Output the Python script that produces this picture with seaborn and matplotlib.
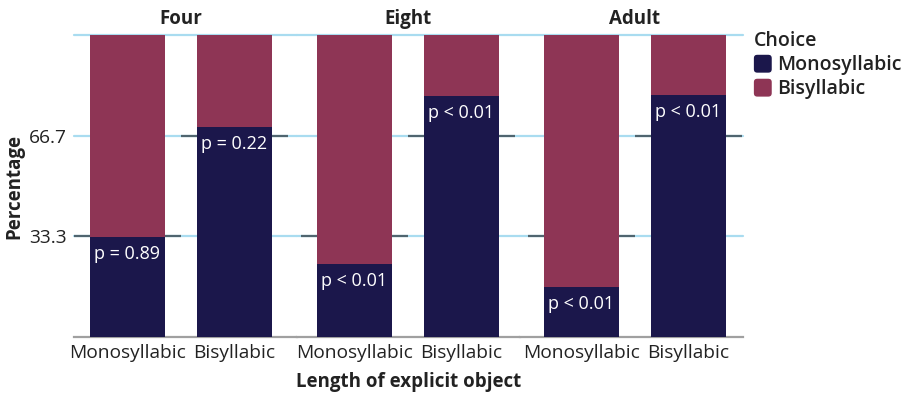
import numpy as np
import pandas as pd
import matplotlib
matplotlib.use("Agg")
import matplotlib.pyplot as plt
from matplotlib.patches import Patch, FancyBboxPatch
from matplotlib.legend_handler import HandlerPatch
import matplotlib.transforms as mtransforms
import seaborn as sns

# ---- data ----
ages = ["Four", "Eight", "Adult"]
lengths = ["Monosyllabic", "Bisyllabic"]
mono_pct = [33.2, 69.5, 24.2, 79.8, 16.6, 80.2]
bisyl_pct = [66.8, 30.5, 75.8, 20.2, 83.4, 19.8]
chance = [33.3, 66.7]
p_labels = ["p = 0.89", "p = 0.22", "p < 0.01", "p < 0.01", "p < 0.01", "p < 0.01"]
y_ticks = [33.3, 66.7]
grid_levels = [33.3, 66.7, 100]

df = pd.DataFrame({
    "age": np.repeat(ages, len(lengths)),
    "length": lengths * len(ages),
    "mono": mono_pct,
    "bisyl": bisyl_pct,
    "label": p_labels,
})
df["stack_top"] = df["mono"] + df["bisyl"]

NAVY = "#1b174b"
MAROON = "#8e3555"
GRID = "#a9dcf0"
CHANCE = "#50656f"
TEXT = "#222222"

sns.set_theme(style="white")
plt.rcParams["font.family"] = ["Open Sans", "DejaVu Sans"]

fig, axes = plt.subplots(1, 3, figsize=(9.09, 3.93), dpi=100, sharey=True)
fig.subplots_adjust(left=0.0814, right=0.8174, top=0.911, bottom=0.1425, wspace=0)

xlims = [(-0.50, 1.584), (-0.537, 1.547), (-0.575, 1.509)]

for ax, age, xl in zip(axes, ages, xlims):
    sub = df[df["age"] == age]
    for lvl in grid_levels:
        ax.axhline(lvl, color=GRID, lw=1.6, zorder=0, clip_on=False)
    for i, c in enumerate(chance):
        ax.hlines(c, i - 0.5, i + 0.5, color=CHANCE, lw=1.6, zorder=0.5)
    sns.barplot(data=sub, x="length", y="stack_top", order=lengths, color=MAROON,
                width=0.70, saturation=1, linewidth=0, ax=ax, zorder=2)
    sns.barplot(data=sub, x="length", y="mono", order=lengths, color=NAVY,
                width=0.70, saturation=1, linewidth=0, ax=ax, zorder=3)
    for i, row in enumerate(sub.itertuples()):
        ax.text(i, row.mono - 2.6, row.label, ha="center", va="top",
                color="white", fontsize=13, zorder=4)
    ax.set_xlim(*xl)
    ax.set_ylim(0, 100)
    ax.set_xlabel("")
    ax.set_ylabel("")
    for s in ["top", "right", "left"]:
        ax.spines[s].set_visible(False)
    ax.spines["bottom"].set_color("#a0a0a0")
    ax.spines["bottom"].set_linewidth(1.6)
    ax.tick_params(axis="both", length=0, labelsize=13.8, colors=TEXT, pad=5)
    trans = mtransforms.blended_transform_factory(ax.transData, ax.transAxes)
    ax.text(0.5, 1.02, age, transform=trans, ha="center", va="bottom",
            fontsize=13.5, fontweight="bold", color=TEXT)

axes[0].set_yticks(y_ticks)
axes[0].set_yticklabels([f"{t:.1f}" for t in y_ticks])
axes[0].tick_params(axis="y", pad=5)

fig.text(0.016, 0.525, "Percentage", rotation=90, ha="center", va="center",
         fontsize=13.5, fontweight="bold", color=TEXT)
fig.text(0.449, 0.027, "Length of explicit object", ha="center", va="center",
         fontsize=13.5, fontweight="bold", color=TEXT)


def rounded_box(legend, orig_handle, xdescent, ydescent, width, height, fontsize):
    side = height * 1.15
    return FancyBboxPatch((-xdescent + (width - side) / 2, -ydescent - (side - height) / 2),
                          side, side, boxstyle="round,pad=0,rounding_size=3")


handles = [Patch(facecolor=NAVY, label="Monosyllabic"),
           Patch(facecolor=MAROON, label="Bisyllabic")]
leg = fig.legend(handles=handles, title="Choice", loc="upper left",
                 bbox_to_anchor=(0.829, 0.92), frameon=False,
                 handler_map={Patch: HandlerPatch(patch_func=rounded_box)},
                 handlelength=0.95, handleheight=0.95, handletextpad=0.25,
                 labelspacing=0.2, borderaxespad=0, borderpad=0,
                 prop={"size": 14, "weight": "semibold"},
                 title_fontproperties={"size": 14, "weight": "semibold"})
leg._legend_box.align = "left"
for t in leg.get_texts():
    t.set_color(TEXT)
leg.get_title().set_color(TEXT)

fig.savefig("out.png", dpi=100)
